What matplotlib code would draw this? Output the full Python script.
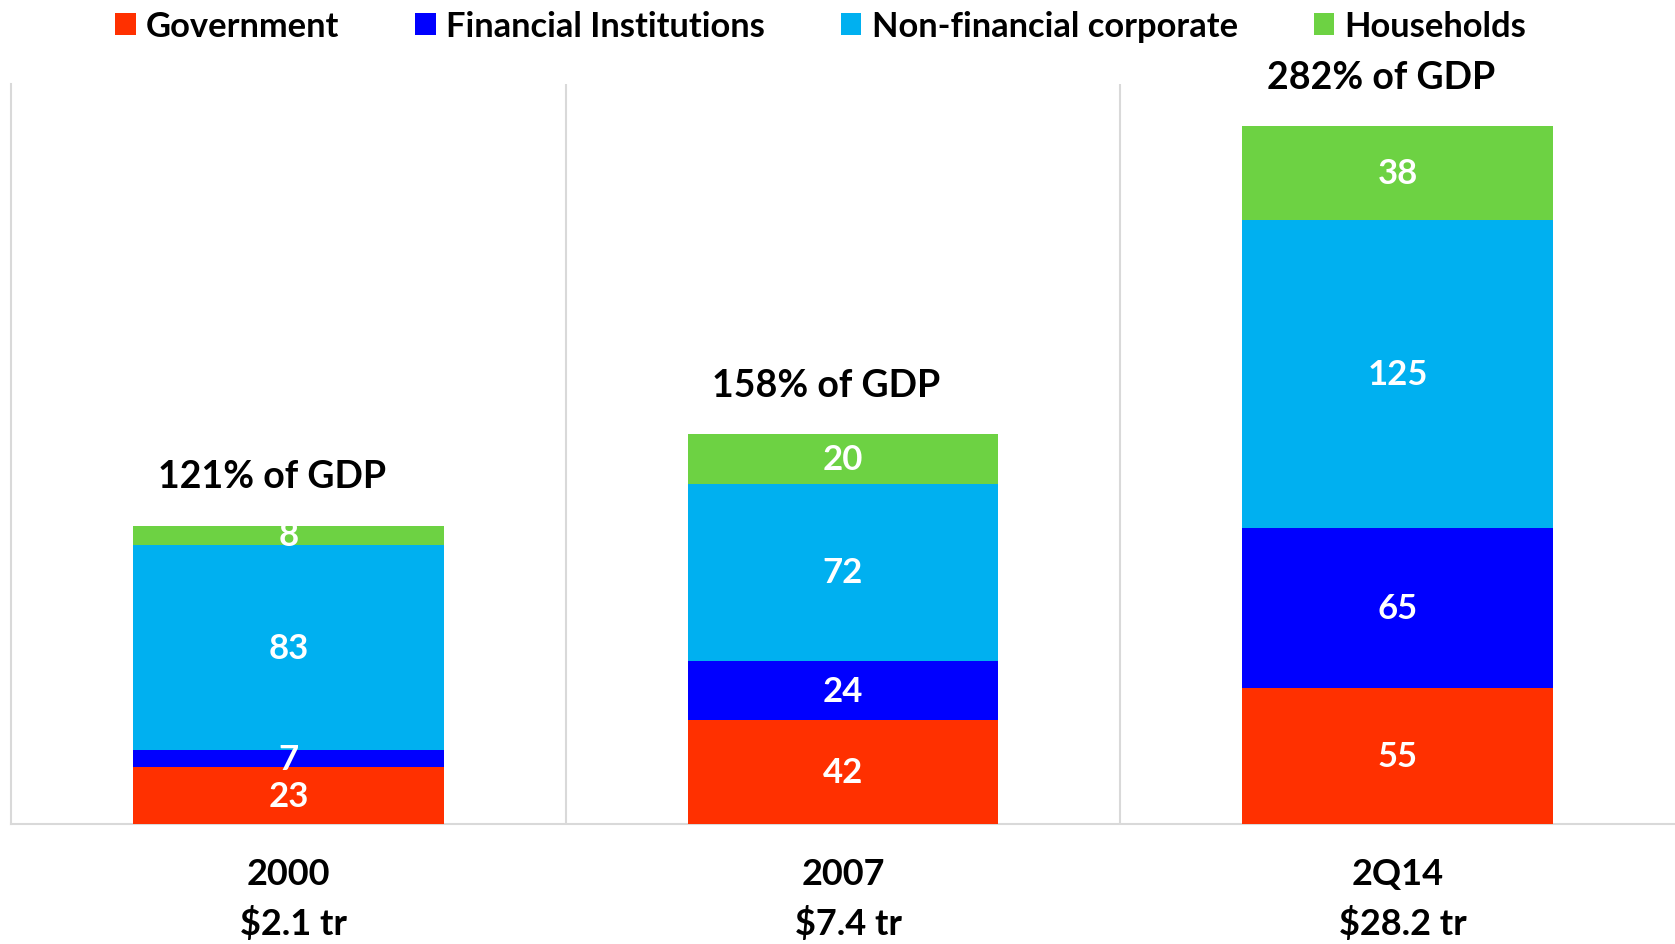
import matplotlib.pyplot as plt
from matplotlib.transforms import blended_transform_factory

plt.rcParams['font.family'] = ['Lato', 'DejaVu Sans']
plt.rcParams['font.weight'] = 'bold'

periods = ["2000", "2007", "2Q14"]
totals_usd = ["$2.1 tr", "$7.4 tr", "$28.2 tr"]
gdp_share = [121, 158, 282]

government = [23, 42, 55]
financial = [7, 24, 65]
nonfinancial = [83, 72, 125]
households = [8, 20, 38]

series = [
    ("Government", government, "#FF3000"),
    ("Financial Institutions", financial, "#0000FF"),
    ("Non-financial corporate", nonfinancial, "#00B0F0"),
    ("Households", households, "#6DD243"),
]

W, H = 1675, 945
fig = plt.figure(figsize=(W / 100, H / 100), dpi=100)
ax = fig.add_axes([11 / W, 120 / H, 1 - 11 / W, 740 / H])

x = list(range(len(periods)))
bottom = [0] * len(periods)
handles = []
for name, vals, color in series:
    bars = ax.bar(x, vals, width=0.56, bottom=bottom, color=color, label=name, zorder=3)
    ax.bar_label(bars, labels=[str(v) for v in vals], label_type='center',
                 color='white', fontsize=25, fontweight='bold', zorder=4)
    handles.append(bars)
    bottom = [b + v for b, v in zip(bottom, vals)]

for xi, top, pct in zip(x, bottom, gdp_share):
    ax.text(xi - 0.03, top + 20, f"{pct}% of GDP", ha='center', va='center',
            fontsize=27, fontweight='bold', color='black')

ax.set_xlim(-0.5, len(periods) - 0.5)
ax.set_ylim(0, 300)
ax.set_xticks([])
ax.set_yticks([])
for side in ('top', 'right'):
    ax.spines[side].set_visible(False)
for side in ('left', 'bottom'):
    ax.spines[side].set_color('#D9D9D9')
    ax.spines[side].set_linewidth(1.5)
for b in [0.5, 1.5]:
    ax.axvline(b, color='#D9D9D9', linewidth=1.5, zorder=1)

trans = blended_transform_factory(ax.transData, fig.transFigure)
for xi, p, usd in zip(x, periods, totals_usd):
    ax.text(xi, 1 - 875 / H, p, transform=trans, ha='center', va='center',
            fontsize=26, fontweight='bold')
    ax.text(xi + 0.01, 1 - 924 / H, usd, transform=trans, ha='center', va='center',
            fontsize=26, fontweight='bold')

fig.legend(handles=handles, loc='center', bbox_to_anchor=(0.49, 1 - 27 / H),
           ncol=4, frameon=False, fontsize=24.8, handlelength=0.6, handleheight=0.6,
           handletextpad=0.3, columnspacing=2.2, borderaxespad=0)

fig.savefig("out.png", dpi=100)
